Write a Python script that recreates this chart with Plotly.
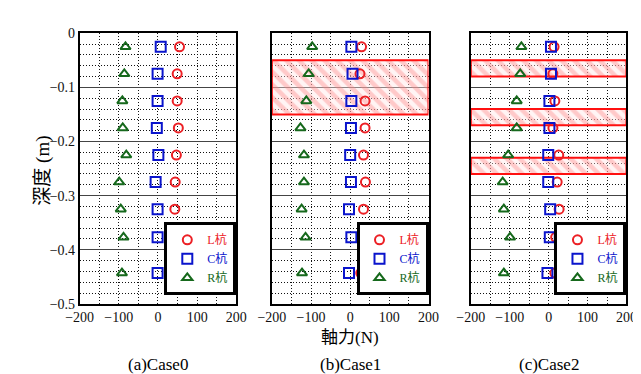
import plotly.graph_objects as go

# ---------------- data ----------------
depth = [-0.025, -0.075, -0.125, -0.175, -0.225, -0.275, -0.325, -0.377, -0.443]

case0_L = [55, 49, 49, 52, 47, 44, 43, 37, 29]
case0_C = [7, -1, -1, -3, 1, -6, -1, -1, -1]
case0_R = [-83, -86, -91, -90, -81, -99, -95, -88, -92]

case1_L = [29, 25, 38, 38, 34, 39, 34, 31, 27]
case1_C = [3, 6, 3, 2, 0, 2, -3, 3, -3]
case1_R = [-97, -106, -112, -127, -118, -118, -124, -114, -123]

case2_L = [14, 11, 16, 11, 26, 22, 27, 18, 16]
case2_C = [6, 6, 2, 2, -1, -1, 4, 3, -3]
case2_R = [-70, -73, -82, -82, -104, -118, -115, -99, -115]

# hatched zones (top depth, bottom depth)
case1_bands = [(-0.05, -0.15)]
case2_bands = [(-0.05, -0.08), (-0.14, -0.17), (-0.23, -0.26)]
case0_bands = []

captions = ["(a)Case0", "(b)Case1", "(c)Case2"]
series_names = ["L杭", "C杭", "R杭"]
x_range = [-200, 200]
y_range = [-0.5, 0]

# ---------------- styles ----------------
W, H = 641, 374
RED = "#ec2025"
BLUE = "#0a14cc"
GREEN = "#16691c"
FONT = "'Liberation Serif', 'Times New Roman', 'Noto Sans CJK JP', serif"

panels_px = [(60, 223), (260, 423), (467, 629)]
y_top_px, y_bot_px = 19, 301

cases = [
    (case0_L, case0_C, case0_R, case0_bands),
    (case1_L, case1_C, case1_R, case1_bands),
    (case2_L, case2_C, case2_R, case2_bands),
]

fig = go.Figure()

for i, (L, C, R, bands) in enumerate(cases):
    sfx = "" if i == 0 else str(i + 1)
    xa, ya = "x" + sfx, "y" + sfx
    leg = "legend" + sfx
    for (top, bot) in bands:
        fig.add_trace(go.Scatter(
            x=[x_range[0], x_range[1], x_range[1], x_range[0], x_range[0]],
            y=[top, top, bot, bot, top],
            mode="lines", fill="toself",
            fillcolor="rgba(255,215,215,0.45)",
            fillpattern=dict(shape="\\", fgcolor="rgba(255,130,130,0.75)",
                             bgcolor="rgba(255,228,228,0.4)", size=9, solidity=0.5),
            line=dict(color="#ff1010", width=2),
            xaxis=xa, yaxis=ya, showlegend=False, hoverinfo="skip",
            legend=leg, cliponaxis=False,
        ))
    for vals, name, col, sym, sz in [
        (L, series_names[0], RED, "circle-open", 9),
        (C, series_names[1], BLUE, "square-open", 10),
        (R, series_names[2], GREEN, "triangle-up-open", 9),
    ]:
        fig.add_trace(go.Scatter(
            x=vals, y=depth, mode="markers",
            name=f"<span style='color:{col}'>{name}</span>",
            marker=dict(symbol=sym, size=sz, color=col, line=dict(color=col, width=2)),
            xaxis=xa, yaxis=ya, legend=leg,
        ))

layout = dict(
    width=W, height=H,
    margin=dict(l=0, r=0, t=0, b=0),
    paper_bgcolor="white", plot_bgcolor="white",
    font=dict(family=FONT, size=14, color="black"),
    showlegend=True,
)

annotations = []
for i, (x0, x1) in enumerate(panels_px):
    sfx = "" if i == 0 else str(i + 1)
    dom_x = [x0 / W, x1 / W]
    dom_y = [1 - y_bot_px / H, 1 - y_top_px / H]
    layout["xaxis" + sfx] = dict(
        domain=dom_x, range=x_range, anchor="y" + sfx,
        dtick=100, showgrid=True, griddash="1px,2px", gridcolor="#111", gridwidth=1,
        minor=dict(dtick=50, showgrid=True, griddash="1px,2px", gridcolor="#111", gridwidth=1),
        showline=True, mirror=True, linecolor="black", linewidth=1.5,
        zeroline=False, ticks="", tickfont=dict(family=FONT, size=14, color="#111"),
    )
    layout["yaxis" + sfx] = dict(
        domain=dom_y, range=y_range, anchor="x" + sfx,
        dtick=0.1, showgrid=True, gridcolor="#444", gridwidth=1.3,
        minor=dict(dtick=0.02, showgrid=True, griddash="1px,2px", gridcolor="#111", gridwidth=1),
        showline=True, mirror=True, linecolor="black", linewidth=1.5,
        zeroline=False, ticks="", showticklabels=(i == 0),
        tickfont=dict(family=FONT, size=14, color="#111"),
    )
    layout["legend" + sfx] = dict(
        x=x1 / W, xanchor="right", y=1 - 292 / H, yanchor="bottom",
        bgcolor="white", bordercolor="black", borderwidth=3,
        font=dict(family=FONT, size=12), itemwidth=30, tracegroupgap=0,
    )
    annotations.append(dict(
        text=captions[i], x=(x0 + x1) / 2 / W, y=1 - 364 / H,
        xref="paper", yref="paper", xanchor="center", yanchor="middle",
        showarrow=False, font=dict(family=FONT, size=17, color="black"),
    ))

annotations.append(dict(
    text="軸力(N)", x=341.5 / W, y=1 - 336 / H, xref="paper", yref="paper",
    xanchor="center", yanchor="middle",
    showarrow=False, font=dict(family=FONT, size=17, color="black"),
))
annotations.append(dict(
    text="深度 (m)", x=21 / W, y=1 - 162 / H, xref="paper", yref="paper",
    xanchor="center", yanchor="middle",
    showarrow=False, textangle=-90, font=dict(family=FONT, size=19, color="black"),
))
layout["annotations"] = annotations

fig.update_layout(**layout)
fig.write_html("out.html")
